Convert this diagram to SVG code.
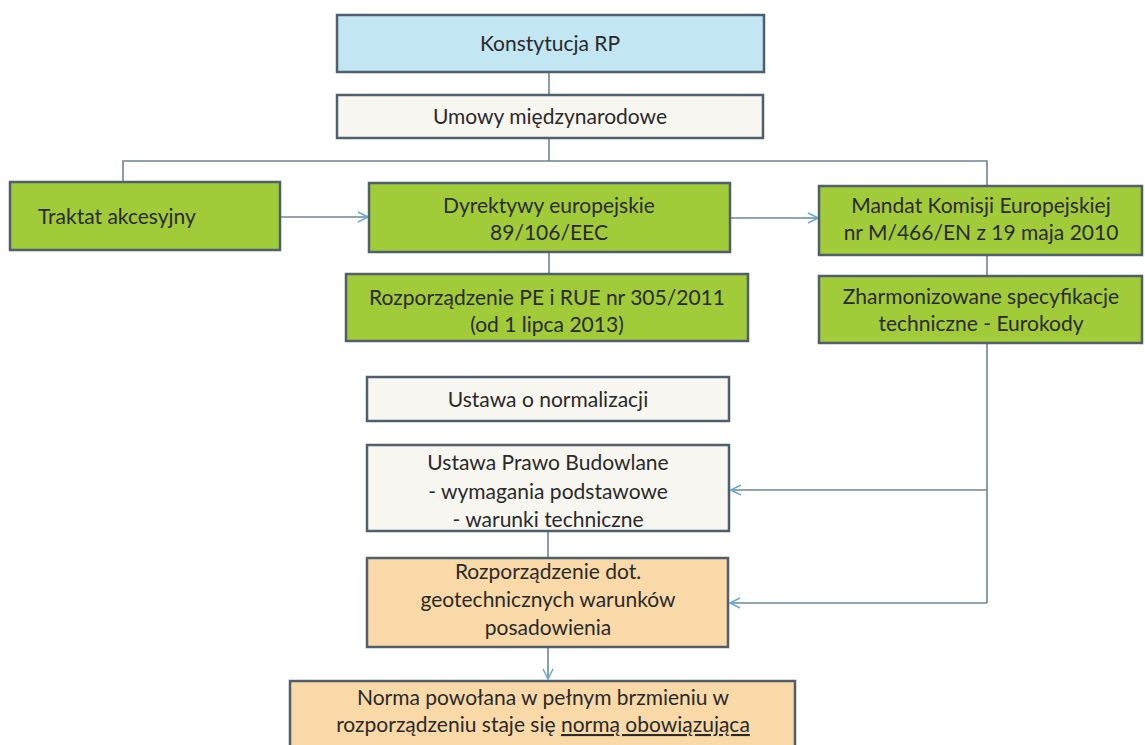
<svg xmlns="http://www.w3.org/2000/svg" width="1145" height="745" viewBox="0 0 1145 745">
<style>
  .box{stroke:#4f5f6e;stroke-width:2.5}
  .blue{fill:#c2e6f2}
  .cream{fill:#f8f6f1}
  .green{fill:#a2cb3a}
  .peach{fill:#f9d9a8}
  .t{font-family:Lato,"Liberation Sans",sans-serif;font-size:21px;fill:#2a2a2a;text-anchor:middle}
  .conn{fill:none;stroke:#6f8494;stroke-width:1.6}
</style>
<defs>
  <marker id="arr" viewBox="0 0 12 12" refX="11" refY="6" markerWidth="12" markerHeight="12" markerUnits="userSpaceOnUse" orient="auto">
    <path d="M1,1 L11,6 L1,11" fill="none" stroke="#6aaad6" stroke-width="1.6"/>
  </marker>
</defs>
<rect width="1145" height="745" fill="#ffffff"/>
<g id="connectors">
  <line class="conn" x1="549" y1="72" x2="549" y2="95"/>
  <path class="conn" d="M549,138 V161 M123,182 V161 H987 V186"/>
  <line class="conn" x1="280" y1="217" x2="368" y2="217" marker-end="url(#arr)"/>
  <line class="conn" x1="730" y1="218" x2="818" y2="218" marker-end="url(#arr)"/>
  <line class="conn" x1="549" y1="252" x2="549" y2="274"/>
  <line class="conn" x1="987" y1="255" x2="987" y2="276"/>
  <path class="conn" d="M987,343 V603"/>
  <line class="conn" x1="987" y1="490" x2="731" y2="490" marker-end="url(#arr)"/>
  <line class="conn" x1="987" y1="603" x2="730" y2="603" marker-end="url(#arr)"/>
  <line class="conn" x1="548" y1="531" x2="548" y2="558"/>
  <line class="conn" x1="548" y1="647" x2="548" y2="679" marker-end="url(#arr)"/>
</g>
<g id="konstytucja">
  <rect class="box blue" x="337" y="15" width="427" height="57"/>
  <text class="t" x="550" y="51">Konstytucja RP</text>
</g>
<g id="umowy">
  <rect class="box cream" x="337" y="95" width="426" height="43"/>
  <text class="t" x="550" y="124">Umowy międzynarodowe</text>
</g>
<g id="traktat">
  <rect class="box green" x="10" y="182" width="270" height="68"/>
  <text class="t" x="38" y="224" style="text-anchor:start">Traktat akcesyjny</text>
</g>
<g id="dyrektywy">
  <rect class="box green" x="369" y="183" width="361" height="69"/>
  <text class="t" x="549" y="213">Dyrektywy europejskie</text>
  <text class="t" x="549" y="240">89/106/EEC</text>
</g>
<g id="mandat">
  <rect class="box green" x="819" y="186" width="323" height="69"/>
  <text class="t" x="981" y="213">Mandat Komisji Europejskiej</text>
  <text class="t" x="981" y="240">nr M/466/EN z 19 maja 2010</text>
</g>
<g id="rozporzadzenie-pe">
  <rect class="box green" x="346" y="274" width="402" height="67"/>
  <text class="t" x="547" y="305">Rozporządzenie PE i RUE nr 305/2011</text>
  <text class="t" x="547" y="332">(od 1 lipca 2013)</text>
</g>
<g id="zharmonizowane">
  <rect class="box green" x="819" y="276" width="323" height="67"/>
  <text class="t" x="981" y="304">Zharmonizowane specyfikacje</text>
  <text class="t" x="981" y="331">techniczne - Eurokody</text>
</g>
<g id="ustawa-normalizacja">
  <rect class="box cream" x="367" y="377" width="362" height="44"/>
  <text class="t" x="548" y="407">Ustawa o normalizacji</text>
</g>
<g id="ustawa-pb">
  <rect class="box cream" x="367" y="445" width="362" height="86"/>
  <text class="t" x="548" y="470">Ustawa Prawo Budowlane</text>
  <text class="t" x="548" y="499">- wymagania podstawowe</text>
  <text class="t" x="548" y="527">- warunki techniczne</text>
</g>
<g id="rozporzadzenie-dot">
  <rect class="box peach" x="367" y="558" width="361" height="89"/>
  <text class="t" x="548" y="579">Rozporządzenie dot.</text>
  <text class="t" x="548" y="607">geotechnicznych warunków</text>
  <text class="t" x="548" y="635">posadowienia</text>
</g>
<g id="norma">
  <rect class="box peach" x="290" y="681" width="505" height="80"/>
  <text class="t" x="543" y="705">Norma powołana w pełnym brzmieniu w</text>
  <text class="t" x="543" y="732">rozporządzeniu staje się <tspan text-decoration="underline">normą obowiązująca</tspan></text>
</g>
</svg>
